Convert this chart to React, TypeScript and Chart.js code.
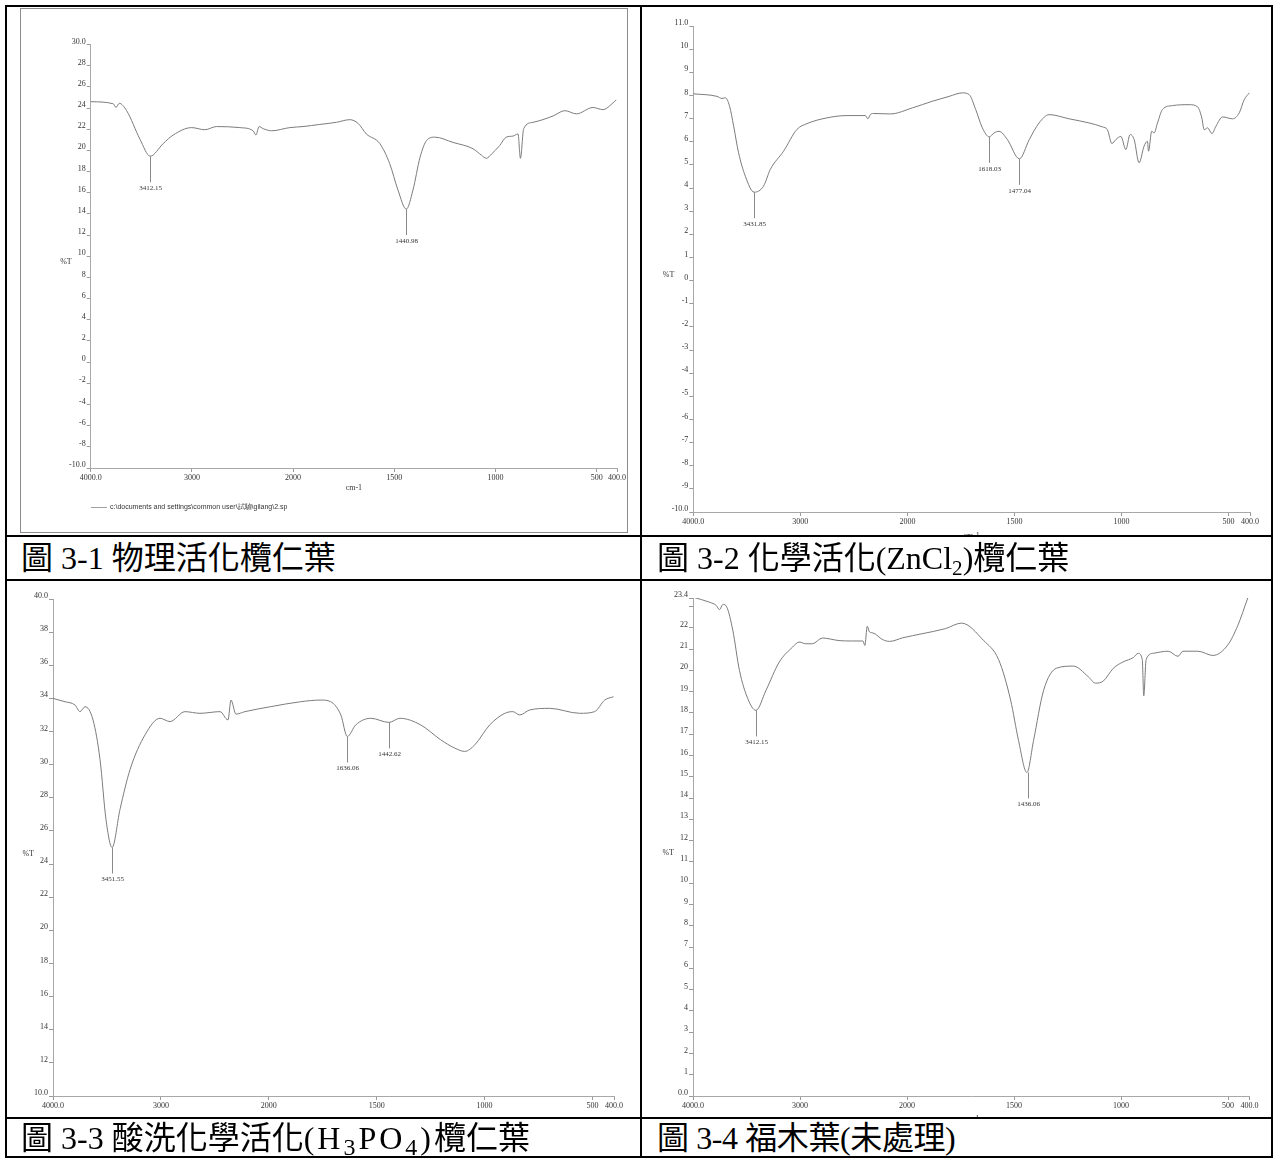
import React, { useEffect, useRef } from 'react';
import { Chart, registerables, LinearScale } from 'chart.js';

Chart.register(...registerables);

// ---------- IR wavenumber axis: 4000-2000 at half the scale of 2000-400 ----------
function toU(w: number) { return w >= 2000 ? 4000 - w : 2000 + 2 * (2000 - w); }
function fromU(u: number) { return u <= 2000 ? 4000 - u : 2000 - (u - 2000) / 2; }
const U_MAX = toU(400);

class IRScale extends LinearScale {
  getPixelForValue(value: any) {
    if (value === null || value === undefined || isNaN(value)) return NaN;
    return this.getPixelForDecimal(toU(value) / U_MAX);
  }
  getValueForPixel(pixel: number) {
    return fromU(this.getDecimalForPixel(pixel) * U_MAX);
  }
}
(IRScale as any).id = 'irscale';
(IRScale as any).defaults = {};
Chart.register(IRScale as any);

Chart.defaults.font.family = '"Liberation Serif", "Times New Roman", serif';

// ---------- shared axis ticks ----------
const X_TICK_VALUES = [4000, 3000, 2000, 1500, 1000, 500, 400];
const X_TICK_LABELS = ['4000.0', '3000', '2000', '1500', '1000', '500', '400.0'];

// ---------- 圖 3-1 ----------
const WN_1 = [4000, 3777, 3750, 3718, 3645, 3513, 3412, 3283, 3185, 3003, 2872, 2756, 2526, 2395, 2368, 2336, 2296, 2213, 2033, 1951, 1868, 1786, 1720, 1679, 1638, 1572, 1523, 1482, 1441, 1408, 1373, 1340, 1300, 1210, 1111, 1070, 1045, 1020, 980, 947, 914, 889, 877, 861, 815, 716, 658, 600, 519, 470, 404];
const T_1 = [24.6, 24.4, 24.05, 24.45, 23.75, 21.05, 19.45, 20.65, 21.45, 22.15, 21.95, 22.25, 22.15, 21.85, 21.45, 22.25, 22.05, 21.85, 22.15, 22.25, 22.45, 22.65, 22.9, 22.55, 21.55, 20.65, 18.75, 16.25, 14.45, 16.25, 19.35, 20.95, 21.25, 20.75, 20.15, 19.55, 19.25, 19.65, 20.45, 21.25, 21.35, 21.55, 19.25, 22.05, 22.65, 23.25, 23.75, 23.45, 24.05, 23.85, 24.75];
const Y_TICKS_1 = [30, 28, 26, 24, 22, 20, 18, 16, 14, 12, 10, 8, 6, 4, 2, 0, -2, -4, -6, -8, -10];
const Y_LABELS_1 = ['30.0', '28', '26', '24', '22', '20', '18', '16', '14', '12', '10', '8', '6', '4', '2', '0', '-2', '-4', '-6', '-8', '-10.0'];
const PEAK_WN_1 = [3412.15, 1440.98];
const PEAK_T_1 = [19.45, 14.45];
const PEAK_LABELS_1 = ['3412.15', '1440.98'];

// ---------- 圖 3-2 ----------
const WN_2 = [4000, 3779, 3732, 3701, 3661, 3623, 3577, 3514, 3432, 3344, 3281, 3157, 3032, 2939, 2752, 2565, 2394, 2369, 2347, 2316, 2160, 1977, 1883, 1805, 1743, 1712, 1681, 1650, 1618, 1595, 1572, 1533, 1477, 1431, 1385, 1338, 1245, 1151, 1089, 1066, 1045, 1027, 1003, 980, 960, 941, 918, 895, 879, 874, 859, 848, 832, 809, 762, 684, 645, 625, 614, 598, 578, 559, 528, 481, 450, 427, 403];
const T_2 = [8.07, 7.96, 7.87, 7.9, 7.53, 6.67, 5.52, 4.51, 3.82, 4.08, 4.8, 5.59, 6.53, 6.78, 7.03, 7.13, 7.13, 6.99, 7.17, 7.22, 7.2, 7.46, 7.75, 7.96, 8.11, 8.04, 7.39, 6.6, 6.21, 6.38, 6.45, 6.09, 5.26, 6.09, 6.81, 7.17, 6.99, 6.81, 6.64, 6.52, 5.92, 6.09, 6.23, 5.66, 6.31, 6.09, 5.09, 5.8, 6.02, 5.59, 6.45, 6.38, 6.81, 7.39, 7.56, 7.6, 7.51, 7.03, 6.52, 6.6, 6.35, 6.67, 7.07, 6.99, 7.25, 7.82, 8.11];
const Y_TICKS_2 = [11, 10, 9, 8, 7, 6, 5, 4, 3, 2, 1, 0, -1, -2, -3, -4, -5, -6, -7, -8, -9, -10];
const Y_LABELS_2 = ['11.0', '10', '9', '8', '7', '6', '5', '4', '3', '2', '1', '0', '-1', '-2', '-3', '-4', '-5', '-6', '-7', '-8', '-9', '-10.0'];
const PEAK_WN_2 = [3431.85, 1618.03, 1477.04];
const PEAK_T_2 = [3.82, 6.21, 5.26];
const PEAK_LABELS_2 = ['3431.85', '1618.03', '1477.04'];

// ---------- 圖 3-3 ----------
const WN_3 = [4000, 3889, 3796, 3750, 3703, 3629, 3564, 3509, 3452, 3379, 3286, 3147, 3008, 2916, 2777, 2638, 2452, 2378, 2350, 2304, 2221, 1991, 1852, 1759, 1713, 1666, 1636, 1597, 1527, 1443, 1392, 1296, 1203, 1138, 1092, 1045, 976, 906, 869, 837, 791, 698, 559, 490, 443, 402];
const T_3 = [34.0, 33.8, 33.6, 33.2, 33.5, 32.7, 30.3, 26.7, 25.0, 27.3, 29.7, 31.8, 32.8, 32.6, 33.2, 33.1, 33.2, 32.7, 33.9, 33.05, 33.2, 33.5, 33.8, 33.9, 33.8, 33.0, 31.7, 32.4, 32.8, 32.55, 32.8, 32.4, 31.5, 31.0, 30.8, 31.2, 32.4, 33.1, 33.2, 33.0, 33.3, 33.4, 33.1, 33.2, 33.9, 34.1];
const Y_TICKS_3 = [40, 38, 36, 34, 32, 30, 28, 26, 24, 22, 20, 18, 16, 14, 12, 10];
const Y_LABELS_3 = ['40.0', '38', '36', '34', '32', '30', '28', '26', '24', '22', '20', '18', '16', '14', '12', '10.0'];
const PEAK_WN_3 = [3451.55, 1636.06, 1442.62];
const PEAK_T_3 = [25.0, 31.7, 32.55];
const PEAK_LABELS_3 = ['3451.55', '1636.06', '1442.62'];

// ---------- 圖 3-4 ----------
const WN_4 = [4000, 3845, 3783, 3752, 3721, 3684, 3628, 3566, 3488, 3412, 3318, 3194, 3070, 3008, 2946, 2884, 2791, 2636, 2512, 2412, 2394, 2372, 2350, 2319, 2226, 2164, 2040, 1930, 1821, 1745, 1642, 1572, 1516, 1479, 1440, 1409, 1362, 1302, 1223, 1153, 1120, 1083, 1036, 990, 943, 920, 901, 894, 883, 850, 780, 734, 711, 641, 571, 501, 455, 408];
const T_4 = [23.44, 23.2, 23.05, 22.85, 23.1, 22.97, 21.88, 20.0, 18.67, 18.12, 19.06, 20.39, 21.09, 21.33, 21.25, 21.25, 21.52, 21.4, 21.38, 21.38, 21.17, 22.07, 21.8, 21.76, 21.44, 21.36, 21.53, 21.72, 21.96, 22.22, 21.4, 20.5, 18.6, 16.7, 15.2, 16.7, 19.06, 20.1, 20.2, 19.7, 19.4, 19.5, 20.1, 20.4, 20.6, 20.8, 20.5, 18.8, 20.5, 20.8, 20.9, 20.66, 20.9, 20.9, 20.7, 21.2, 22.1, 23.4];
const Y_TICKS_4 = [23.4, 23, 22, 21, 20, 19, 18, 17, 16, 15, 14, 13, 12, 11, 10, 9, 8, 7, 6, 5, 4, 3, 2, 1, 0];
const Y_LABELS_4 = ['23.4', '', '22', '21', '20', '19', '18', '17', '16', '15', '14', '13', '12', '11', '10', '9', '8', '7', '6', '5', '4', '3', '2', '1', '0.0'];
const PEAK_WN_4 = [3412.15, 1436.06];
const PEAK_T_4 = [18.12, 15.2];
const PEAK_LABELS_4 = ['3412.15', '1436.06'];

type Spec = {
  wn: number[]; t: number[];
  yTicks: number[]; yLabels: string[];
  peakWn: number[]; peakT: number[]; peakLabels: string[];
  pad: { left: number; right: number; top: number; bottom: number };
  xHeight: number; showTitle: boolean;
};

function decor(spec: Spec) {
  return {
    id: 'irdecor',
    afterDatasetsDraw(chart: any) {
      const ctx = chart.ctx;
      const xs = chart.scales.x;
      const ys = chart.scales.y;
      const area = chart.chartArea;
      ctx.save();
      ctx.strokeStyle = '#8a8a8a';
      ctx.lineWidth = 1;
      ctx.fillStyle = '#333';
      ctx.font = '7px "Liberation Serif"';
      ctx.textAlign = 'center';
      ctx.textBaseline = 'middle';
      spec.peakWn.forEach((w, i) => {
        const px = Math.round(xs.getPixelForValue(w)) + 0.5;
        const py = ys.getPixelForValue(spec.peakT[i]);
        ctx.beginPath();
        ctx.moveTo(px, py);
        ctx.lineTo(px, py + 26);
        ctx.stroke();
        ctx.fillText(spec.peakLabels[i], px, py + 32);
      });
      ctx.font = '8px "Liberation Serif"';
      ctx.textAlign = 'right';
      ctx.fillText('%T', area.left - 19, (area.top + area.bottom) / 2 + 6);
      ctx.restore();
    },
  };
}

function makeConfig(spec: Spec): any {
  const yMin = Math.min(...spec.yTicks);
  const yMax = Math.max(...spec.yTicks);
  return {
    type: 'line',
    data: {
      datasets: [{
        data: spec.wn.map((w, i) => ({ x: w, y: spec.t[i] })),
        borderColor: '#7c7c7c',
        borderWidth: 1,
        pointRadius: 0,
        fill: false,
        cubicInterpolationMode: 'monotone',
      }],
    },
    options: {
      responsive: false,
      animation: false,
      devicePixelRatio: 1,
      layout: { padding: spec.pad },
      plugins: { legend: { display: false }, tooltip: { enabled: false } },
      scales: {
        x: {
          type: 'irscale',
          min: 400,
          max: 4000,
          afterBuildTicks: (s: any) => { s.ticks = X_TICK_VALUES.map((v) => ({ value: v })); },
          afterFit: (s: any) => { s.height = spec.xHeight; },
          ticks: {
            autoSkip: false, maxRotation: 0, minRotation: 0, padding: 1,
            color: '#333', font: { size: 8 },
            callback: (v: any) => X_TICK_LABELS[X_TICK_VALUES.indexOf(v)],
          },
          grid: { drawOnChartArea: false, drawTicks: true, tickLength: 4, color: '#9a9a9a' },
          border: { display: true, color: '#a8a8a8' },
          title: { display: spec.showTitle, text: 'cm-1', color: '#333', font: { size: 8 }, padding: 0 },
        },
        y: {
          min: yMin,
          max: yMax,
          afterBuildTicks: (s: any) => { s.ticks = spec.yTicks.map((v) => ({ value: v })); },
          afterFit: (s: any) => { s.width = 40; },
          ticks: {
            autoSkip: false, padding: 1, labelOffset: -3,
            color: '#333', font: { size: 8 },
            callback: (v: any) => spec.yLabels[spec.yTicks.indexOf(v)],
          },
          grid: { drawOnChartArea: false, drawTicks: true, tickLength: 4, color: '#9a9a9a' },
          border: { display: true, color: '#a8a8a8' },
        },
      },
    },
    plugins: [decor(spec)],
  };
}

function IRChart(props: { left: number; top: number; width: number; height: number; spec: Spec }) {
  const ref = useRef<HTMLCanvasElement | null>(null);
  useEffect(() => {
    const c = new Chart(ref.current as HTMLCanvasElement, makeConfig(props.spec));
    return () => c.destroy();
  }, []);
  return (
    <div style={{ position: 'absolute', left: props.left, top: props.top, width: props.width, height: props.height, zIndex: 1 }}>
      <canvas ref={ref} width={props.width} height={props.height} style={{ width: props.width, height: props.height, display: 'block' }} />
    </div>
  );
}

const SPEC_1: Spec = {
  wn: WN_1, t: T_1, yTicks: Y_TICKS_1, yLabels: Y_LABELS_1,
  peakWn: PEAK_WN_1, peakT: PEAK_T_1, peakLabels: PEAK_LABELS_1,
  pad: { left: 29.7, right: 9.5, top: 35.5, bottom: 39.2 }, xHeight: 24.8, showTitle: true,
};
const SPEC_2: Spec = {
  wn: WN_2, t: T_2, yTicks: Y_TICKS_2, yLabels: Y_LABELS_2,
  peakWn: PEAK_WN_2, peakT: PEAK_T_2, peakLabels: PEAK_LABELS_2,
  pad: { left: 11.3, right: 21, top: 19, bottom: 16 }, xHeight: 29, showTitle: true,
};
const SPEC_3: Spec = {
  wn: WN_3, t: T_3, yTicks: Y_TICKS_3, yLabels: Y_LABELS_3,
  peakWn: PEAK_WN_3, peakT: PEAK_T_3, peakLabels: PEAK_LABELS_3,
  pad: { left: 6, right: 26, top: 18, bottom: 25 }, xHeight: 20, showTitle: false,
};
const SPEC_4: Spec = {
  wn: WN_4, t: T_4, yTicks: Y_TICKS_4, yLabels: Y_LABELS_4,
  peakWn: PEAK_WN_4, peakT: PEAK_T_4, peakLabels: PEAK_LABELS_4,
  pad: { left: 11, right: 21.5, top: 17, bottom: 17.2 }, xHeight: 27.8, showTitle: true,
};

const line = (l: number, t: number, w: number, h: number) => (
  <div style={{ position: 'absolute', left: l, top: t, width: w, height: h, background: '#000', zIndex: 3 }} />
);

const captionStyle: React.CSSProperties = {
  position: 'absolute',
  zIndex: 2,
  background: '#fff',
  display: 'flex',
  alignItems: 'center',
  fontFamily: '"Liberation Serif", "Noto Sans CJK TC", serif',
  fontSize: 32,
  lineHeight: 1,
  color: '#000',
  whiteSpace: 'nowrap',
  boxSizing: 'border-box',
};
const subStyle: React.CSSProperties = { fontSize: '0.66em', verticalAlign: 'baseline', position: 'relative', top: '0.28em', lineHeight: 0 };
const subWide: React.CSSProperties = { ...subStyle, fontSize: '0.75em' };

export default function App() {
  return (
    <div style={{ position: 'absolute', left: 0, top: 0, width: 1275, height: 1158, background: '#fff', overflow: 'hidden' }}>
      {/* chart 1 frame */}
      <div style={{ position: 'absolute', left: 20, top: 8, width: 608, height: 525, border: '1px solid #8c8c8c', boxSizing: 'border-box' }} />
      <IRChart left={21} top={9} width={606} height={523} spec={SPEC_1} />
      <div style={{ position: 'absolute', left: 91, top: 507, width: 16, height: 1, background: '#a0a0a0', zIndex: 2 }} />
      <div style={{ position: 'absolute', left: 110, top: 502, fontFamily: '"Liberation Sans", Arial, sans-serif', fontSize: 7, lineHeight: '9px', color: '#333', zIndex: 2, whiteSpace: 'nowrap' }}>
        {'c:\\documents and settings\\common user\\試驗\\gilang\\2.sp'}
      </div>

      <IRChart left={642} top={7} width={629} height={550} spec={SPEC_2} />
      <IRChart left={7} top={581} width={633} height={560} spec={SPEC_3} />
      <IRChart left={642} top={581} width={629} height={560} spec={SPEC_4} />

      {/* caption cells */}
      <div style={{ ...captionStyle, left: 7, top: 537, width: 633, height: 42, paddingLeft: 14 }}>圖 3-1 物理活化欖仁葉</div>
      <div style={{ ...captionStyle, left: 642, top: 537, width: 629, height: 42, paddingLeft: 15 }}>
        <span>圖 3-2 化學活化(ZnCl<span style={subStyle}>2</span>)欖仁葉</span>
      </div>
      <div style={{ ...captionStyle, left: 7, top: 1119, width: 633, height: 37, paddingLeft: 14 }}>
        <span>圖 3-3 酸洗化學活化<span style={{ letterSpacing: 3 }}>(H<span style={subWide}>3</span>PO<span style={subWide}>4</span>)</span>欖仁葉</span>
      </div>
      <div style={{ ...captionStyle, left: 642, top: 1119, width: 629, height: 37, paddingLeft: 15 }}>
        <span style={{ letterSpacing: -0.4 }}>圖 3-4 福木葉(未處理)</span>
      </div>

      {/* table borders */}
      {line(5, 5, 1268, 2)}
      {line(5, 1156, 1268, 2)}
      {line(5, 5, 2, 1153)}
      {line(1271, 5, 2, 1153)}
      {line(640, 5, 2, 1153)}
      {line(5, 535, 1268, 2)}
      {line(5, 579, 1268, 2)}
      {line(5, 1117, 1268, 2)}
    </div>
  );
}
